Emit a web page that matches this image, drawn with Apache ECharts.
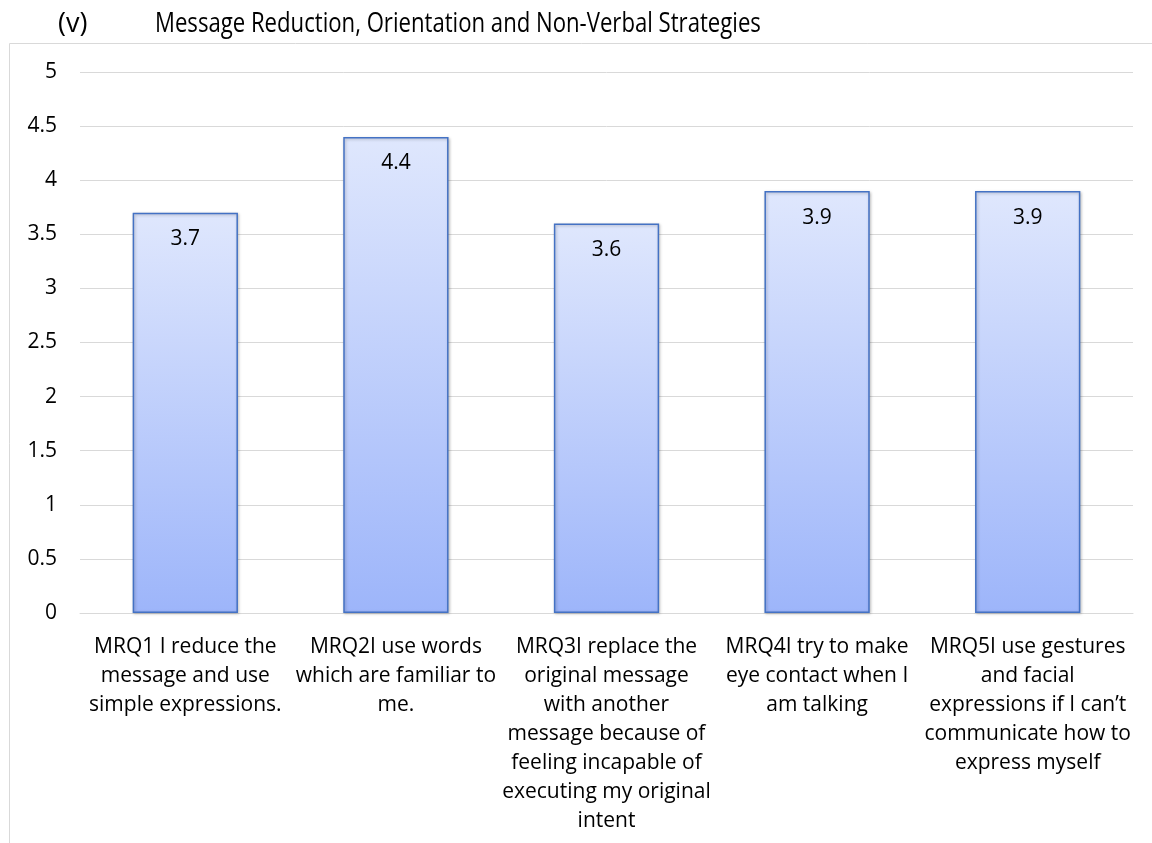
<!DOCTYPE html>
<html>
<head>
<meta charset="utf-8">
<script src="https://cdn.jsdelivr.net/npm/echarts@6/dist/echarts.min.js"></script>
<style>
  html, body { margin: 0; padding: 0; background: #fff; }
  #chart { width: 1152px; height: 843px; }
</style>
</head>
<body>
<div id="chart"></div>
<script>
// Mean scores per item (bar chart, single series)
const titlePrefix = '(v)';
const titleText = 'Message Reduction, Orientation and Non-Verbal Strategies';

const categories = [
  'MRQ1 I reduce the\nmessage and use\nsimple expressions.',
  'MRQ2I use words\nwhich are familiar to\nme.',
  'MRQ3I replace the\noriginal message\nwith another\nmessage because of\nfeeling incapable of\nexecuting my original\nintent',
  'MRQ4I try to make\neye contact when I\nam talking',
  'MRQ5I use gestures\nand facial\nexpressions if I can\u2019t\ncommunicate how to\nexpress myself',
];
const values = [3.7, 4.4, 3.6, 3.9, 3.9];

const yMin = 0, yMax = 5, yStep = 0.5;

const FONT = '"Open Sans", sans-serif';
const chart = echarts.init(document.getElementById('chart'));

chart.setOption({
  animation: false,
  textStyle: { fontFamily: FONT },
  graphic: [
    // chart-area frame (only left and top edges are visible in the crop)
    {
      type: 'rect', silent: true,
      shape: { x: 9.5, y: 43.5, width: 1300, height: 1000 },
      style: { fill: 'none', stroke: '#d9d9d9', lineWidth: 1 },
    },
    // heading sits above the frame, in a condensed face like the original
    {
      type: 'text', silent: true, x: 58, y: 24,
      style: { text: titlePrefix, font: '27px "Open Sans", sans-serif', fill: '#000', verticalAlign: 'middle' },
    },
    {
      type: 'text', silent: true, x: 155, y: 24, scaleX: 0.82,
      style: { text: titleText, font: '27px "Open Sans", sans-serif', fill: '#000', verticalAlign: 'middle' },
    },
  ],
  grid: { left: 80, right: 19, top: 72, bottom: 230 },
  xAxis: {
    type: 'category', data: categories,
    axisTick: { show: false },
    axisLine: { lineStyle: { color: '#d9d9d9', width: 1 } },
    axisLabel: {
      interval: 0, color: '#000', fontFamily: FONT, fontSize: 21,
      lineHeight: 29, margin: 20, align: 'center',
    },
  },
  yAxis: {
    type: 'value', min: yMin, max: yMax, interval: yStep,
    axisLine: { show: false }, axisTick: { show: false },
    axisLabel: { color: '#000', fontFamily: FONT, fontSize: 21, margin: 23 },
    splitLine: { lineStyle: { color: '#d9d9d9', width: 1 } },
  },
  series: [{
    type: 'bar', data: values, barWidth: '50%',
    itemStyle: {
      color: new echarts.graphic.LinearGradient(0, 0, 0, 1, [
        { offset: 0, color: '#dfe7fd' },
        { offset: 1, color: '#9db5fa' },
      ]),
      borderColor: '#4472c4', borderWidth: 1.5,
      shadowColor: 'rgba(0,0,0,0.25)', shadowBlur: 3, shadowOffsetX: 1, shadowOffsetY: 1,
    },
    label: {
      show: true, position: 'insideTop', distance: 16,
      color: '#000', fontFamily: FONT, fontSize: 21,
    },
  }],
});
</script>
</body>
</html>
